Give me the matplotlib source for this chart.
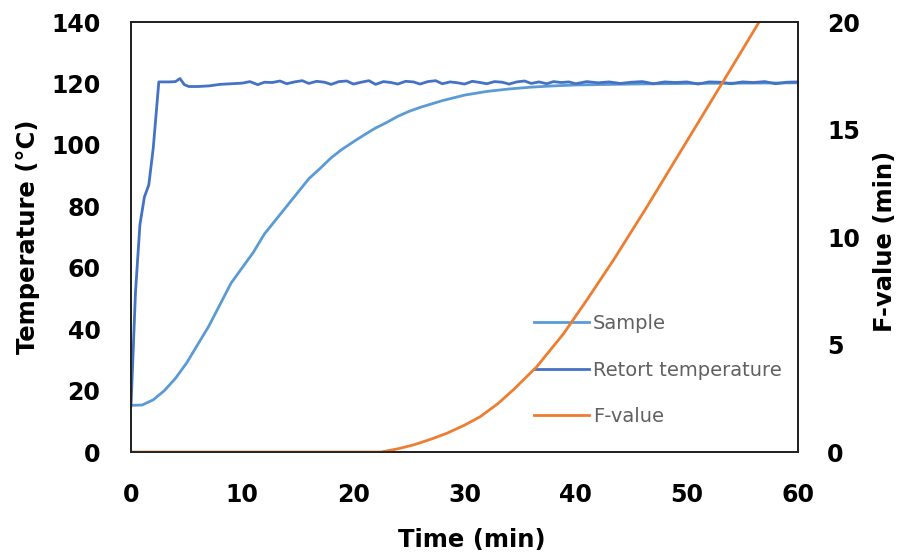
import matplotlib
matplotlib.use("Agg")
import matplotlib.pyplot as plt

# Retort temperature (°C)
retort_t = [0, 0.4, 0.8, 1.2, 1.6, 2.0, 2.5, 3.0, 3.5, 4.0, 4.4, 4.8, 5.2,
            6, 7, 8, 9, 10, 10.7, 11.4, 12.0, 12.7, 13.4, 14.0, 14.7, 15.4,
            16.0, 16.7, 17.4, 18.0, 18.7, 19.4, 20.0, 20.7, 21.4, 22.0, 22.7,
            23.4, 24.0, 24.7, 25.4, 26.0, 26.7, 27.4, 28.0, 28.7, 29.4, 30.0,
            30.7, 31.4, 32.0, 32.7, 33.4, 34.0, 34.7, 35.4, 36.0, 36.7, 37.4,
            38.0, 38.7, 39.4, 40, 41, 42, 43, 44, 45, 46, 47, 48, 49, 50, 51,
            52, 53, 54, 55, 56, 57, 58, 59, 60]
retort_temp = [15, 52, 74, 83, 87, 99, 120.5, 120.5, 120.5, 120.6, 121.6, 119.6, 119.0,
               119.0, 119.2, 119.7, 119.9, 120.1, 120.6, 119.6, 120.4, 120.3, 120.8, 119.9, 120.5, 120.9,
               120.0, 120.7, 120.4, 119.7, 120.6, 120.8, 119.8, 120.4, 120.9, 119.7, 120.6,
               120.3, 119.8, 120.7, 120.5, 119.8, 120.6, 120.9, 119.9, 120.5, 120.2, 119.8,
               120.7, 120.3, 119.9, 120.6, 120.4, 119.8, 120.5, 120.8, 120.0, 120.5, 119.9,
               120.6, 120.3, 120.5, 119.9, 120.6, 120.2, 120.5, 120.0, 120.4, 120.6, 119.9, 120.5, 120.3, 120.5, 119.8,
               120.5, 120.4, 119.9, 120.5, 120.3, 120.6, 119.9, 120.4, 120.5]

# Sample core temperature (°C)
sample_t = [0, 1, 2, 3, 4, 5, 6, 7, 8, 9, 10, 11, 12, 13, 14, 15, 16, 17, 18, 19,
            20, 21, 22, 23, 24, 25, 26, 27, 28, 29, 30, 32, 34, 36, 38, 40, 45, 50, 55, 60]
sample_temp = [15.2, 15.3, 17.0, 20.0, 24.0, 29.0, 35.0, 41.0, 48.0, 55.0, 60.0, 65.0,
               71.0, 75.5, 80.0, 84.5, 89.0, 92.3, 95.8, 98.6, 101.0, 103.3, 105.5, 107.3,
               109.3, 110.9, 112.2, 113.3, 114.4, 115.3, 116.2, 117.4, 118.2, 118.8, 119.2,
               119.5, 119.8, 120.0, 120.1, 120.2]

# F-value (min)
f_t = [0, 22.5, 24, 25.4, 27, 28.4, 30, 31.4, 33, 34.4, 36.5, 38.9, 41.0, 43.4,
       46.4, 48, 50, 52, 54, 56.5, 57]
f_val = [0, 0, 0.15, 0.33, 0.6, 0.87, 1.25, 1.64, 2.25, 2.9, 3.97, 5.5, 7.07, 8.93,
         11.4, 12.76, 14.46, 16.16, 17.86, 20.0, 20.4]

fig = plt.figure(figsize=(9.08, 5.56), dpi=100)
ax = fig.add_axes([0.1443, 0.187, 0.7346, 0.7734])
ax2 = ax.twinx()

l1, = ax.plot(sample_t, sample_temp, color="#5B9BD5", lw=2.0, label="Sample")
l2, = ax.plot(retort_t, retort_temp, color="#4472C4", lw=2.0, label="Retort temperature")
l3, = ax2.plot(f_t, f_val, color="#ED7D31", lw=2.0, label="F-value")

ax.set_xlim(0, 60)
ax.set_ylim(0, 140)
ax2.set_ylim(0, 20)
ax.set_xticks(range(0, 61, 10))
ax.set_yticks(range(0, 141, 20))
ax2.set_yticks(range(0, 21, 5))

bold = dict(family="DejaVu Sans", weight="bold")
for a in (ax, ax2):
    a.tick_params(length=0, labelsize=17)
    for lab in a.get_xticklabels() + a.get_yticklabels():
        lab.set_fontweight("bold")
    for s in a.spines.values():
        s.set_color("#222222")
        s.set_linewidth(1.3)
ax.tick_params(axis="y", pad=22)
ax.tick_params(axis="x", pad=22)
ax2.tick_params(axis="y", pad=21)

ax.set_xlabel("Time (min)", fontsize=17.5, **bold)
ax.set_ylabel("Temperature (°C)", fontsize=17.5, **bold)
ax2.set_ylabel("F-value (min)", fontsize=17.5, **bold)
ax.xaxis.set_label_coords(0.511, -0.205)
ax.yaxis.set_label_coords(-0.154, 0.5)
ax2.yaxis.set_label_coords(1.13, 0.49)
ax.xaxis.label.set_va("center")
ax.yaxis.label.set_va("center")
ax2.yaxis.label.set_va("center")

leg = ax.legend(handles=[l1, l2, l3], loc="lower left", bbox_to_anchor=(0.604, 0.06),
                frameon=False, fontsize=14, handlelength=2.85, handletextpad=0.2,
                labelspacing=1.42, borderpad=0, borderaxespad=0, labelcolor="#606060")

fig.savefig("out.png", dpi=100)
